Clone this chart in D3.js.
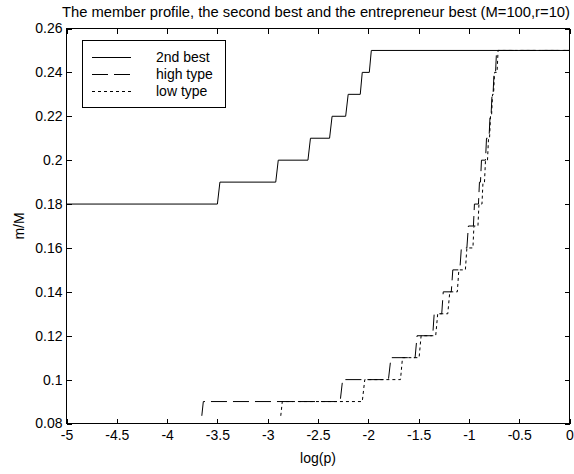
<!DOCTYPE html>
<html>
<head>
<meta charset="utf-8">
<script src="https://cdn.jsdelivr.net/npm/d3@7"></script>
<style>
  html, body { margin: 0; padding: 0; background: #fff; }
  svg { display: block; }
  text { font-family: "Liberation Sans", Arial, sans-serif; fill: #000; }
</style>
</head>
<body>
<svg id="chart" width="574" height="474"></svg>
<script>
// ---- data ----
const titleText = "The member profile, the second best and the entrepreneur best (M=100,r=10)";
const xLabelText = "log(p)";
const yLabelText = "m/M";
const xTicks = [-5, -4.5, -4, -3.5, -3, -2.5, -2, -1.5, -1, -0.5, 0];
const yTicks = [0.08, 0.1, 0.12, 0.14, 0.16, 0.18, 0.2, 0.22, 0.24, 0.26];
const seriesNames = ["2nd best", "high type", "low type"];

const secondBestX = [-5, -3.50, -3.475, -2.92, -2.895, -2.60, -2.575, -2.385, -2.36, -2.225, -2.20, -2.08, -2.06, -1.99, -1.97, 0];
const secondBestY = [0.18, 0.18, 0.19, 0.19, 0.20, 0.20, 0.21, 0.21, 0.22, 0.22, 0.23, 0.23, 0.24, 0.24, 0.25, 0.25];

const highTypeX = [-3.655, -3.64, -2.28, -2.255, -1.80, -1.775, -1.535, -1.515, -1.36, -1.345, -1.27, -1.255, -1.175, -1.16, -1.09, -1.075, -1.02, -1.005, -0.955, -0.945, -0.905, -0.895, -0.885, -0.875, -0.835, -0.825, -0.80, -0.79, -0.78, -0.77, -0.76, -0.75, -0.735, -0.725, 0];
const highTypeY = [0.0835, 0.09, 0.09, 0.10, 0.10, 0.11, 0.11, 0.12, 0.12, 0.13, 0.13, 0.14, 0.14, 0.15, 0.15, 0.16, 0.16, 0.17, 0.17, 0.18, 0.18, 0.19, 0.19, 0.20, 0.20, 0.21, 0.21, 0.22, 0.22, 0.23, 0.23, 0.24, 0.24, 0.25, 0.25];

const lowTypeX = [-2.87, -2.855, -2.06, -2.035, -1.68, -1.66, -1.495, -1.475, -1.33, -1.31, -1.21, -1.19, -1.115, -1.10, -1.035, -1.02, -0.96, -0.95, -0.91, -0.90, -0.87, -0.86, -0.845, -0.835, -0.815, -0.805, -0.795, -0.785, -0.775, -0.765, -0.755, -0.745, -0.72, -0.71, 0];
const lowTypeY = [0.0835, 0.09, 0.09, 0.10, 0.10, 0.11, 0.11, 0.12, 0.12, 0.13, 0.13, 0.14, 0.14, 0.15, 0.15, 0.16, 0.16, 0.17, 0.17, 0.18, 0.18, 0.19, 0.19, 0.20, 0.20, 0.21, 0.21, 0.22, 0.22, 0.23, 0.23, 0.24, 0.24, 0.25, 0.25];

// ---- layout ----
const L = 66.5, R = 569.5, T = 28.5, B = 423.5;
const svg = d3.select("#chart");
const x = d3.scaleLinear().domain([-5, 0]).range([L, R]);
const y = d3.scaleLinear().domain([0.08, 0.26]).range([B, T]);
const fmt = d => String(+d.toFixed(2));

svg.append("rect").attr("x", L).attr("y", T).attr("width", R - L).attr("height", B - T)
  .attr("fill", "#fff");

function styleAxis(g) {
  g.select(".domain").remove();
  g.selectAll(".tick line").attr("stroke", "#000").attr("shape-rendering", "crispEdges");
  g.selectAll("text").attr("font-size", 14).attr("font-family", "Liberation Sans, Arial, sans-serif").attr("fill", "#000");
}
const gx = svg.append("g").attr("transform", `translate(0,${B})`)
  .call(d3.axisBottom(x).tickValues(xTicks).tickFormat(fmt).tickSizeInner(-5).tickSizeOuter(0).tickPadding(7));
styleAxis(gx);
const gxTop = svg.append("g").attr("transform", `translate(0,${T})`)
  .call(d3.axisTop(x).tickValues(xTicks).tickFormat("").tickSizeInner(-5).tickSizeOuter(0));
styleAxis(gxTop);
const gy = svg.append("g").attr("transform", `translate(${L},0)`)
  .call(d3.axisLeft(y).tickValues(yTicks).tickFormat(fmt).tickSizeInner(-5).tickSizeOuter(0).tickPadding(4));
styleAxis(gy);
const gyR = svg.append("g").attr("transform", `translate(${R},0)`)
  .call(d3.axisRight(y).tickValues(yTicks).tickFormat("").tickSizeInner(-5).tickSizeOuter(0));
styleAxis(gyR);

svg.append("rect").attr("x", L).attr("y", T).attr("width", R - L).attr("height", B - T)
  .attr("fill", "none").attr("stroke", "#000").attr("stroke-width", 1).attr("shape-rendering", "crispEdges");

const line = d3.line().x(d => x(d[0])).y(d => y(d[1]));
const series = [
  { name: seriesNames[1], xs: highTypeX, ys: highTypeY, dash: "16,6" },
  { name: seriesNames[2], xs: lowTypeX, ys: lowTypeY, dash: "3,3" },
  { name: seriesNames[0], xs: secondBestX, ys: secondBestY, dash: null }
];
series.forEach(s => {
  const pts = s.xs.map((v, i) => [v, s.ys[i]]);
  svg.append("path").datum(pts).attr("d", line)
    .attr("fill", "none").attr("stroke", "#000").attr("stroke-width", 1)
    .attr("stroke-dasharray", s.dash);
});

svg.append("text").attr("x", 316).attr("y", 17).attr("text-anchor", "middle")
  .attr("font-size", 14).attr("textLength", 508).attr("lengthAdjust", "spacingAndGlyphs").text(titleText);
svg.append("text").attr("x", (L + R) / 2).attr("y", 463).attr("text-anchor", "middle")
  .attr("font-size", 14).text(xLabelText);
svg.append("text").attr("transform", `translate(24,${(T + B) / 2}) rotate(-90)`)
  .attr("text-anchor", "middle").attr("font-size", 14).text(yLabelText);

const lg = svg.append("g");
lg.append("rect").attr("x", 82.5).attr("y", 40.5).attr("width", 143).attr("height", 67)
  .attr("fill", "#fff").attr("stroke", "#000").attr("shape-rendering", "crispEdges");
const legendItems = [
  { name: seriesNames[0], dash: null },
  { name: seriesNames[1], dash: "16,6" },
  { name: seriesNames[2], dash: "3,3" }
];
legendItems.forEach((it, i) => {
  const yy = 57 + i * 17;
  lg.append("line").attr("x1", 92).attr("x2", 131).attr("y1", yy + 0.5).attr("y2", yy + 0.5)
    .attr("stroke", "#000").attr("stroke-dasharray", it.dash);
  lg.append("text").attr("x", 156).attr("y", yy).attr("dy", "0.35em").attr("font-size", 14).text(it.name);
});
</script>
</body>
</html>
